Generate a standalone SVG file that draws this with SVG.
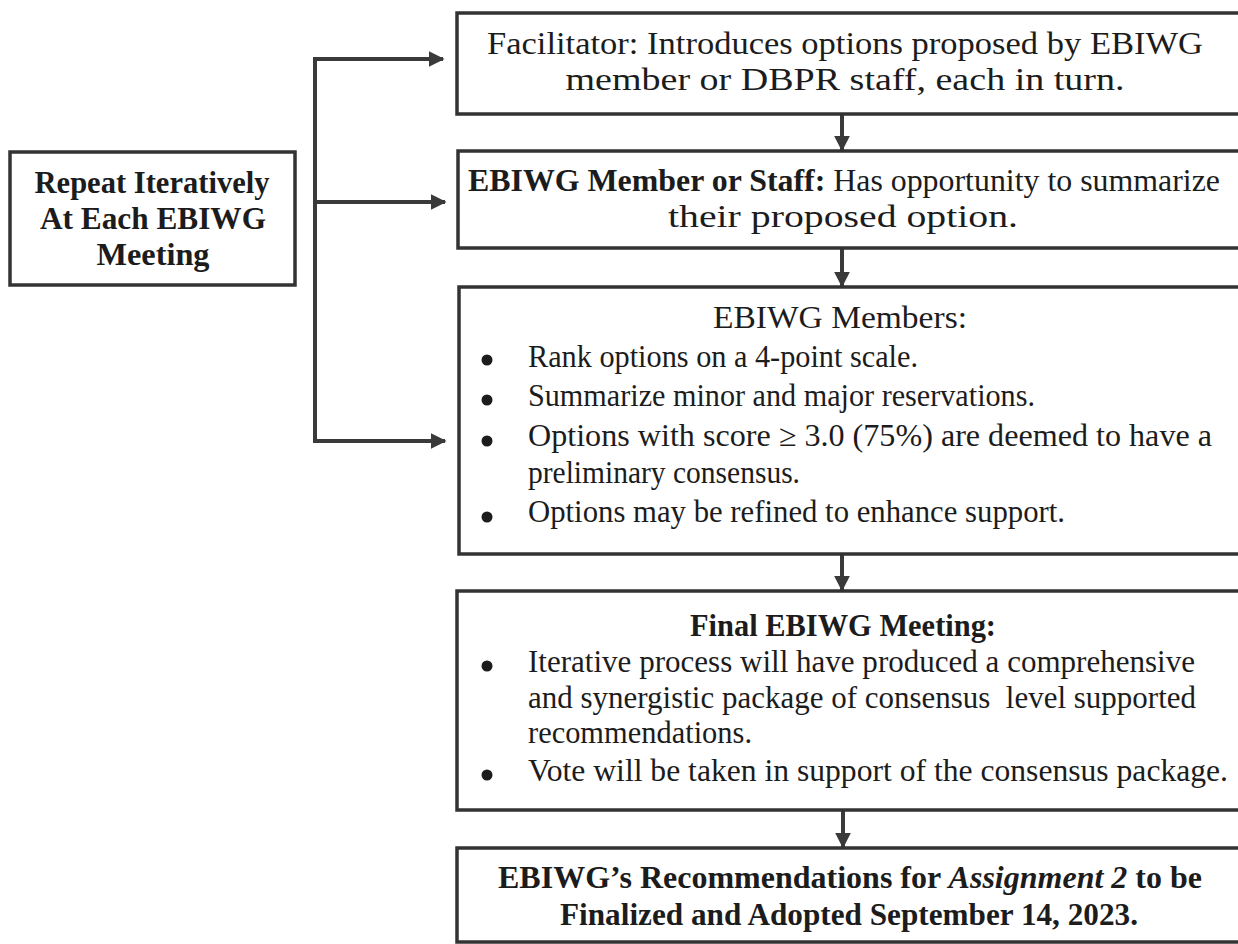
<svg xmlns="http://www.w3.org/2000/svg" width="1238" height="944" viewBox="0 0 1238 944">
<defs>
<style>
.box{fill:#fff;stroke:#333;stroke-width:3.5}
.t{font-family:"Liberation Serif","Times New Roman",serif;font-size:31px;fill:#1c1c1c}
.c{text-anchor:middle}
.b{font-weight:bold}
.i{font-style:italic}
.ln{fill:none;stroke:#3a3a3a;stroke-width:4}
.dot{fill:#1c1c1c}
</style>
<marker id="ah" markerWidth="4" markerHeight="4" refX="3.6" refY="2" orient="auto" markerUnits="strokeWidth">
<path d="M0,0 L4,2 L0,4 Z" fill="#3a3a3a"/>
</marker>
</defs>
<rect width="1238" height="944" fill="#fff"/>

<g id="connectors">
<path class="ln" d="M315,59 V441"/>
<path class="ln" d="M313,59 H443" marker-end="url(#ah)"/>
<path class="ln" d="M315,202 H445" marker-end="url(#ah)"/>
<path class="ln" d="M313,441 H445" marker-end="url(#ah)"/>
<path class="ln" d="M842,114 V150" marker-end="url(#ah)"/>
<path class="ln" d="M842,248 V286" marker-end="url(#ah)"/>
<path class="ln" d="M842,554 V590" marker-end="url(#ah)"/>
<path class="ln" d="M843,810 V847" marker-end="url(#ah)"/>
</g>

<g id="repeat">
<rect class="box" x="10" y="152" width="285" height="133"/>
<text class="t b c" x="152" y="193" textLength="235" lengthAdjust="spacingAndGlyphs">Repeat Iteratively</text>
<text class="t b c" x="153" y="229" textLength="226" lengthAdjust="spacingAndGlyphs">At Each EBIWG</text>
<text class="t b c" x="153" y="265" textLength="113" lengthAdjust="spacingAndGlyphs">Meeting</text>
</g>

<g id="facilitator">
<rect class="box" x="457" y="13" width="800" height="101"/>
<text class="t c" x="845" y="54" textLength="716" lengthAdjust="spacingAndGlyphs">Facilitator: Introduces options proposed by EBIWG</text>
<text class="t c" x="845" y="90" textLength="559" lengthAdjust="spacingAndGlyphs">member or DBPR staff, each in turn.</text>
</g>

<g id="member-staff">
<rect class="box" x="458" y="151" width="800" height="97"/>
<text class="t c" x="844" y="191" textLength="752" lengthAdjust="spacingAndGlyphs"><tspan class="b">EBIWG Member or Staff:</tspan> Has opportunity to summarize</text>
<text class="t c" x="843" y="227" textLength="350" lengthAdjust="spacingAndGlyphs">their proposed option.</text>
</g>

<g id="members">
<rect class="box" x="459" y="287" width="800" height="267"/>
<text class="t c" x="840" y="328" textLength="254" lengthAdjust="spacingAndGlyphs">EBIWG Members:</text>
<circle class="dot" cx="487" cy="360" r="5.5"/>
<text class="t" x="528" y="367" textLength="390" lengthAdjust="spacingAndGlyphs">Rank options on a 4-point scale.</text>
<circle class="dot" cx="487" cy="400" r="5.5"/>
<text class="t" x="528" y="406" textLength="507" lengthAdjust="spacingAndGlyphs">Summarize minor and major reservations.</text>
<circle class="dot" cx="487" cy="441" r="5.5"/>
<text class="t" x="528" y="446" textLength="684" lengthAdjust="spacingAndGlyphs">Options with score ≥ 3.0 (75%) are deemed to have a</text>
<text class="t" x="528" y="483" textLength="272" lengthAdjust="spacingAndGlyphs">preliminary consensus.</text>
<circle class="dot" cx="487" cy="517" r="5.5"/>
<text class="t" x="528" y="522" textLength="537" lengthAdjust="spacingAndGlyphs">Options may be refined to enhance support.</text>
</g>

<g id="final-meeting">
<rect class="box" x="457" y="591" width="800" height="219"/>
<text class="t b c" x="843" y="636" textLength="306" lengthAdjust="spacingAndGlyphs">Final EBIWG Meeting:</text>
<circle class="dot" cx="487" cy="666" r="5.5"/>
<text class="t" x="528" y="672" textLength="667" lengthAdjust="spacingAndGlyphs">Iterative process will have produced a comprehensive</text>
<text class="t" x="528" y="708" textLength="668" lengthAdjust="spacingAndGlyphs" style="white-space:pre">and synergistic package of consensus  level supported</text>
<text class="t" x="528" y="743" textLength="224" lengthAdjust="spacingAndGlyphs">recommendations.</text>
<circle class="dot" cx="487" cy="775" r="5.5"/>
<text class="t" x="528" y="781" textLength="700" lengthAdjust="spacingAndGlyphs">Vote will be taken in support of the consensus package.</text>
</g>

<g id="recommendations">
<rect class="box" x="457" y="848" width="800" height="94"/>
<text class="t b c" x="850" y="888" textLength="704" lengthAdjust="spacingAndGlyphs">EBIWG’s Recommendations for <tspan class="i">Assignment 2</tspan> to be</text>
<text class="t b c" x="849" y="925" textLength="578" lengthAdjust="spacingAndGlyphs">Finalized and Adopted September 14, 2023.</text>
</g>
</svg>
